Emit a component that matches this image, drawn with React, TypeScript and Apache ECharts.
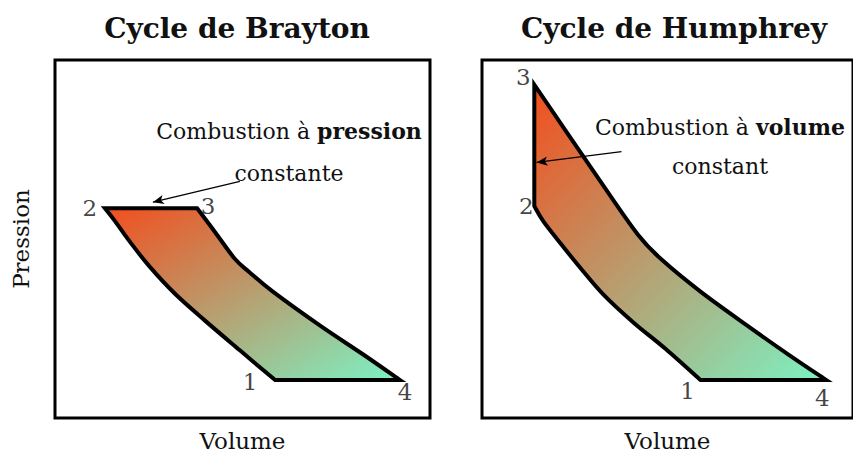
import React, { useEffect, useRef } from "react";
import * as echarts from "echarts";

// Relative volume / pressure (0-100).
// Brayton: compression curve 1 -> 2, expansion curve 3 -> 4 (2->3 and 4->1 are straight)
const braytonCompressionVolume = [58.7, 49.3, 40.0, 32.0, 25.3, 20.0, 16.0, 13.3];
const braytonCompressionPressure = [10.6, 18.9, 27.2, 34.7, 42.2, 49.2, 55.0, 58.6];
const braytonExpansionVolume = [37.9, 42.7, 48.0, 52.0, 58.1, 70.7, 82.1, 92.0];
const braytonExpansionPressure = [58.6, 51.9, 44.4, 40.6, 35.3, 25.8, 17.8, 10.6];

// Humphrey: compression curve 1 -> 2, expansion curve 3 -> 4 (2->3 and 4->1 are straight)
const humphreyCompressionVolume = [58.9, 49.6, 40.8, 32.8, 26.7, 21.3, 16.5, 14.1];
const humphreyCompressionPressure = [10.6, 19.2, 26.7, 34.4, 41.7, 48.6, 55.0, 59.2];
const humphreyExpansionVolume = [14.1, 31.5, 42.1, 48.8, 58.9, 71.5, 82.9, 92.8];
const humphreyExpansionPressure = [93.1, 66.7, 51.1, 43.9, 35.3, 25.8, 17.5, 10.6];

// Corner states
const stateNames = ["1", "2", "3", "4"];
const braytonStateVolume = [58.7, 13.3, 37.9, 92.0];
const braytonStatePressure = [10.6, 58.6, 58.6, 10.6];
const humphreyStateVolume = [58.9, 14.1, 14.1, 92.8];
const humphreyStatePressure = [10.6, 59.2, 93.1, 10.6];

// Annotation arrows [fromVolume, fromPressure, toVolume, toPressure]
const braytonArrow = [49.3, 66.1, 26.1, 60.3];
const humphreyArrow = [37.6, 74.4, 14.7, 71.4];

const titles = ["Cycle de Brayton", "Cycle de Humphrey"];
const xName = "Volume";
const yName = "Pression";

const FONT = "DejaVu Serif";

const braytonOffsets = [[-25, 2], [-15, 0], [11, -2], [5, 12]];
const humphreyOffsets = [[-13, 11], [-8, 0], [-11, -8], [-4, 18]];

const CycleOutline = (echarts.graphic as any).extendShape({
  type: "cycleOutline",
  shape: { a: [], b: [] },
  buildPath(ctx: any, shape: any) {
    const curve = (pts: number[][], start: boolean) => {
      if (!pts || !pts.length) return;
      if (start) ctx.moveTo(pts[0][0], pts[0][1]);
      else ctx.lineTo(pts[0][0], pts[0][1]);
      for (let i = 0; i < pts.length - 1; i++) {
        const p0 = pts[Math.max(i - 1, 0)];
        const p1 = pts[i];
        const p2 = pts[i + 1];
        const p3 = pts[Math.min(i + 2, pts.length - 1)];
        ctx.bezierCurveTo(
          p1[0] + (p2[0] - p0[0]) / 6,
          p1[1] + (p2[1] - p0[1]) / 6,
          p2[0] - (p3[0] - p1[0]) / 6,
          p2[1] - (p3[1] - p1[1]) / 6,
          p2[0],
          p2[1]
        );
      }
    };
    curve(shape.a, true);
    curve(shape.b, false);
    ctx.closePath();
  },
});
(echarts.graphic as any).registerShape("cycleOutline", CycleOutline);

export default function App() {
  const ref = useRef<HTMLDivElement>(null);

  useEffect(() => {
    if (!ref.current) return;
    const chart = echarts.init(ref.current, null, { renderer: "svg" });

    const gradient = () =>
      new echarts.graphic.LinearGradient(0, 0, 1, 1, [
        { offset: 0, color: "#F24E1E" },
        { offset: 1, color: "#7CF2C4" },
      ]);

    const cycleSeries = (idx: number, cv: number[], cp: number[], ev: number[], ep: number[]) => ({
      type: "custom",
      xAxisIndex: idx,
      yAxisIndex: idx,
      data: cv.map((v, i) => [v, cp[i]]).concat(ev.map((v, i) => [v, ep[i]])),
      renderItem: (params: any, api: any) => {
        if (params.dataIndex !== 0) return null;
        const a = cv.map((v, i) => api.coord([v, cp[i]]));
        const b = ev.map((v, i) => api.coord([v, ep[i]]));
        return {
          type: "cycleOutline",
          shape: { a, b },
          style: { fill: gradient(), stroke: "#000", lineWidth: 4, lineJoin: "miter" },
        };
      },
      z: 2,
    });

    const stateSeries = (idx: number, vol: number[], pres: number[], offs: number[][]) => ({
      type: "scatter",
      xAxisIndex: idx,
      yAxisIndex: idx,
      symbolSize: 0,
      z: 5,
      data: stateNames.map((n, i) => ({
        name: n,
        value: [vol[i], pres[i]],
        label: { offset: offs[i] },
      })),
      label: {
        show: true,
        position: "inside",
        formatter: "{b}",
        fontFamily: FONT,
        fontSize: 23,
        color: "#111",
      },
    });

    const arrowSeries = (idx: number, a: number[]) => ({
      type: "line",
      xAxisIndex: idx,
      yAxisIndex: idx,
      data: [],
      z: 6,
      markLine: {
        silent: true,
        symbol: ["none", "arrow"],
        symbolSize: [7, 11],
        label: { show: false },
        lineStyle: { color: "#000", width: 1.2, type: "solid" },
        data: [[{ coord: [a[0], a[1]] }, { coord: [a[2], a[3]] }]],
      },
    });

    const axisBase = {
      type: "value",
      min: 0,
      max: 100,
      axisLine: { show: false },
      axisTick: { show: false },
      axisLabel: { show: false },
      splitLine: { show: false },
      nameTextStyle: { fontFamily: FONT, fontSize: 23, color: "#111" },
    };

    const annot = (cx: number, y1: number, y2: number, first: string, bold: string, second: string) => [
      {
        type: "text",
        x: cx,
        y: y1,
        style: {
          text: first + " {b|" + bold + "}",
          fontFamily: FONT,
          fontSize: 22,
          fill: "#111",
          align: "center",
          verticalAlign: "middle",
          rich: { b: { fontFamily: FONT, fontSize: 22, fontWeight: "bold", fill: "#111" } },
        },
        z: 10,
      },
      {
        type: "text",
        x: cx,
        y: y2,
        style: {
          text: second,
          fontFamily: FONT,
          fontSize: 22,
          fill: "#111",
          align: "center",
          verticalAlign: "middle",
        },
        z: 10,
      },
    ];

    chart.setOption({
      animation: false,
      backgroundColor: "#fff",
      title: [
        {
          text: titles[0],
          left: 232,
          top: 9,
          textAlign: "center",
          textStyle: { fontFamily: FONT, fontSize: 28, fontWeight: "bold", color: "#111" },
        },
        {
          text: titles[1],
          left: 669,
          top: 9,
          textAlign: "center",
          textStyle: { fontFamily: FONT, fontSize: 28, fontWeight: "bold", color: "#111" },
        },
      ],
      grid: [
        { left: 55, top: 60, width: 375, height: 360, show: true, borderColor: "#000", borderWidth: 3, backgroundColor: "transparent" },
        { left: 482, top: 60, width: 375, height: 360, show: true, borderColor: "#000", borderWidth: 3, backgroundColor: "transparent" },
      ],
      xAxis: [
        { ...axisBase, gridIndex: 0, name: xName, nameLocation: "middle", nameGap: 11 },
        { ...axisBase, gridIndex: 1, name: xName, nameLocation: "middle", nameGap: 11 },
      ],
      yAxis: [
        { ...axisBase, gridIndex: 0, name: yName, nameLocation: "middle", nameGap: 23 },
        { ...axisBase, gridIndex: 1 },
      ],
      graphic: [
        ...annot(289, 131, 173, "Combustion à", "pression", "constante"),
        ...annot(720, 127, 166, "Combustion à", "volume", "constant"),
      ],
      series: [
        cycleSeries(0, braytonCompressionVolume, braytonCompressionPressure, braytonExpansionVolume, braytonExpansionPressure),
        cycleSeries(1, humphreyCompressionVolume, humphreyCompressionPressure, humphreyExpansionVolume, humphreyExpansionPressure),
        stateSeries(0, braytonStateVolume, braytonStatePressure, braytonOffsets),
        stateSeries(1, humphreyStateVolume, humphreyStatePressure, humphreyOffsets),
        arrowSeries(0, braytonArrow),
        arrowSeries(1, humphreyArrow),
      ],
    });

    return () => chart.dispose();
  }, []);

  return (
    <div
      ref={ref}
      style={{ position: "fixed", left: 0, top: 0, width: 853, height: 457, background: "#fff" }}
    />
  );
}
